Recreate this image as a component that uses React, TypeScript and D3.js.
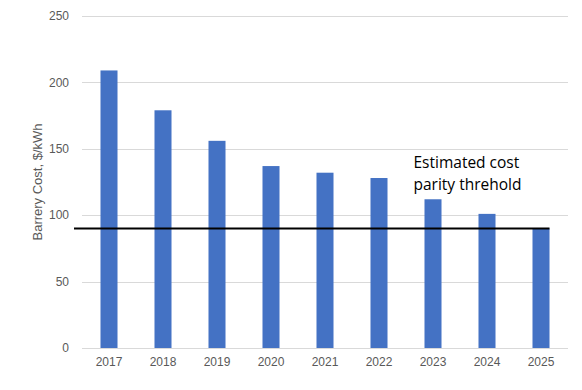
import * as d3 from 'd3';

const years = ['2017', '2018', '2019', '2020', '2021', '2022', '2023', '2024', '2025'];
const costs = [209, 179, 156, 137, 132, 128, 112, 101, 90];
const yTicks = [0, 50, 100, 150, 200, 250];
const parityValue = 90;
const noteLines = ['Estimated cost', 'parity threhold'];

const W = 582;
const H = 390;
const margin = { top: 16, right: 14, bottom: 42, left: 82 };

export default function App() {
  const innerW = W - margin.left - margin.right;
  const innerH = H - margin.top - margin.bottom;

  const x = d3.scaleBand<string>()
    .domain(years)
    .range([0, innerW])
    .paddingInner(0.685)
    .paddingOuter(0.3425);

  const y = d3.scaleLinear()
    .domain([0, 250])
    .range([innerH, 0]);

  const lastYear = years[years.length - 1];
  const lineX1 = -8;
  const lineX2 = (x(lastYear) ?? 0) + x.bandwidth();
  const noteX = (x('2023') ?? 0) - 11;

  return (
    <svg
      width={W}
      height={H}
      style={{ position: 'absolute', left: 0, top: 0, background: '#fff' }}
    >
      <g transform={`translate(${margin.left},${margin.top})`}>
        {/* gridlines */}
        {yTicks.map(t => (
          <line
            key={t}
            x1={0}
            x2={innerW}
            y1={Math.round(y(t)) + 0.5}
            y2={Math.round(y(t)) + 0.5}
            stroke="#d9d9d9"
            strokeWidth={1}
          />
        ))}
        {/* y tick labels */}
        {yTicks.map(t => (
          <text
            key={'l' + t}
            x={-13}
            y={y(t)}
            dy="0.35em"
            textAnchor="end"
            fontFamily="'Liberation Sans', Arial, sans-serif"
            fontSize={12}
            fill="#595959"
          >
            {t}
          </text>
        ))}
        {/* bars */}
        {years.map((yr, i) => (
          <rect
            key={yr}
            x={x(yr)}
            y={y(costs[i])}
            width={x.bandwidth()}
            height={innerH - y(costs[i])}
            fill="#4472c4"
          />
        ))}
        {/* x labels */}
        {years.map(yr => (
          <text
            key={'x' + yr}
            x={(x(yr) ?? 0) + x.bandwidth() / 2}
            y={innerH + 18}
            textAnchor="middle"
            fontFamily="'Liberation Sans', Arial, sans-serif"
            fontSize={12}
            fill="#595959"
          >
            {yr}
          </text>
        ))}
        {/* parity line */}
        <line
          x1={lineX1}
          x2={lineX2}
          y1={y(parityValue)}
          y2={y(parityValue)}
          stroke="#000"
          strokeWidth={2}
        />
        {/* annotation */}
        <text
          x={noteX}
          y={y(parityValue) - 60}
          fontFamily="'Open Sans', sans-serif"
          fontSize={15.5}
          fill="#000"
        >
          {noteLines.map((l, i) => (
            <tspan key={l} x={noteX} dy={i === 0 ? 0 : 22}>{l}</tspan>
          ))}
        </text>
      </g>
      {/* y axis title */}
      <text
        transform={`translate(42,${margin.top + innerH / 2}) rotate(-90)`}
        textAnchor="middle"
        fontFamily="'Liberation Sans', Arial, sans-serif"
        fontSize={13}
        fill="#595959"
      >
        Barrery Cost, $/kWh
      </text>
    </svg>
  );
}
